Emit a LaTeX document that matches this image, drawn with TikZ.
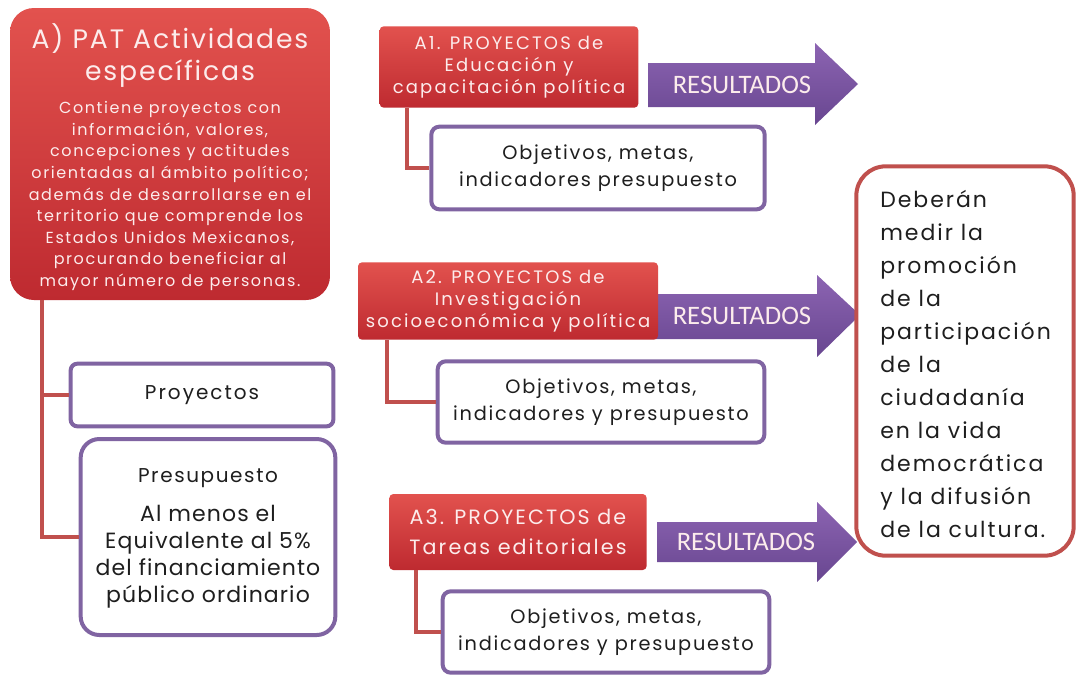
\documentclass[tikz,border=0pt]{standalone}
\usepackage{fontspec}
\setmainfont{Poppins}
\newfontfamily\resfont{Carlito}
\newcommand{\ls}[1]{\addfontfeatures{LetterSpace=#1}}
\definecolor{redtop}{RGB}{226,82,78}
\definecolor{redbot}{RGB}{190,42,48}
\definecolor{lighttext}{RGB}{252,236,236}
\definecolor{purtop}{RGB}{140,100,178}
\definecolor{purbot}{RGB}{104,70,144}
\definecolor{purline}{RGB}{128,100,162}
\definecolor{redline}{RGB}{192,80,77}
\definecolor{darktext}{RGB}{30,30,30}
\begin{document}
\begin{tikzpicture}[x=0.75pt,y=-0.75pt,
  redbox/.style={draw=none, top color=redtop, bottom color=redbot, inner sep=0pt},
  redtext/.style={text=lighttext, align=center, inner sep=0pt},
  purbox/.style={draw=purline, line width=3pt, fill=white, inner sep=0pt, text=darktext, align=center},
  arrowshape/.style={draw=none, top color=purtop, bottom color=purbot},
  restext/.style={text=lighttext, font=\resfont\fontsize{20}{22}\selectfont, inner sep=0pt},
  conn/.style={draw=redline, line width=3pt},
  objtext/.style={font=\fontsize{14.5}{20.5}\selectfont\ls{9}}
]
\fill[white] (0,0) rectangle (1077,675);
\useasboundingbox (0,0) rectangle (1077,675);

% result arrows
\path[arrowshape] (648,63) -- (815,63) -- (815,43) -- (858,84) -- (815,125) -- (815,107) -- (648,107) -- cycle;
\node[restext] (r1) at (742,85) {RESULTADOS};
\path[arrowshape] (655,294) -- (817,294) -- (817,275) -- (860,315) -- (817,357) -- (817,339) -- (655,339) -- cycle;
\node[restext] (r2) at (742,316) {RESULTADOS};
\path[arrowshape] (657,522) -- (817,522) -- (817,502) -- (857,542) -- (817,582) -- (817,562) -- (657,562) -- cycle;
\node[restext] (r3) at (746,542) {RESULTADOS};

% main A box
\node[redbox, rounded corners=18pt, minimum width=240pt, minimum height=219pt] (A) at (170,154) {};
\node[redtext, font=\fontsize{20}{24}\selectfont\ls{7}] (At) at (170,56) {A) PAT Actividades\\específicas};
\node[redtext, font=\fontsize{12}{16.2}\selectfont\ls{10}] (Ab) at (170,196) {Contiene proyectos con\\información, valores,\\concepciones y actitudes\\orientadas al ámbito político;\\además de desarrollarse en el\\territorio que comprende los\\Estados Unidos Mexicanos,\\procurando beneficiar al\\mayor número de personas.};

% Proyectos / Presupuesto
\node[purbox, rounded corners=5pt, minimum width=197pt, minimum height=47pt, font=\fontsize{15}{18}\selectfont\ls{10}] (proy) at (202,395) {Proyectos};
\node[purbox, rounded corners=14pt, minimum width=191pt, minimum height=147pt] (pres) at (208,537) {};
\node[text=darktext, font=\fontsize{15}{18}\selectfont\ls{8}, inner sep=0pt] (prest) at (208,478) {Presupuesto};
\node[text=darktext, align=center, font=\fontsize{16.5}{20.3}\selectfont\ls{5}, inner sep=0pt] (presb) at (208,557) {Al menos el\\Equivalente al 5\%\\del financiamiento\\público ordinario};

\draw[conn] ([xshift=24pt]A.south west) |- (proy.west);
\draw[conn] ([xshift=24pt]A.south west) |- (pres.west);

% A1
\node[redbox, rounded corners=3pt, minimum width=194pt, minimum height=61pt] (a1) at (509,67) {};
\node[redtext, font=\fontsize{13.5}{16.5}\selectfont\ls{12}] (a1t) at (509,67) {A1. PROYECTOS de\\Educación y\\capacitación política};
\node[purbox, objtext, rounded corners=6pt, minimum width=250pt, minimum height=62pt] (o1) at (598,168) {Objetivos, metas,\\indicadores presupuesto};
\draw[conn] ([xshift=21pt]a1.south west) |- (o1.west);

% A2
\node[redbox, rounded corners=3pt, minimum width=225pt, minimum height=58pt] (a2) at (508,301) {};
\node[redtext, font=\fontsize{13.5}{16.5}\selectfont\ls{12}] (a2t) at (508,301) {A2. PROYECTOS de\\Investigación\\socioeconómica y política};
\node[purbox, objtext, rounded corners=6pt, minimum width=245pt, minimum height=61pt] (o2) at (601,402) {Objetivos, metas,\\indicadores y presupuesto};
\draw[conn] ([xshift=22pt]a2.south west) |- (o2.west);

% A3
\node[redbox, rounded corners=3pt, minimum width=193pt, minimum height=57pt] (a3) at (518,532) {};
\node[redtext, font=\fontsize{15.5}{22}\selectfont\ls{10}] (a3t) at (518,532) {A3. PROYECTOS de\\Tareas editoriales};
\node[purbox, objtext, rounded corners=6pt, minimum width=245pt, minimum height=61pt] (o3) at (606,632) {Objetivos, metas,\\indicadores y presupuesto};
\draw[conn] ([xshift=20pt]a3.south west) |- (o3.west);

% right box
\node[draw=redline, line width=3pt, fill=white, rounded corners=22pt, minimum width=163pt, minimum height=292pt] (res) at (965,361) {};
\node[text=darktext, align=left, anchor=west, inner sep=0pt, font=\fontsize{16.5}{24.7}\selectfont\ls{9}] (rest) at (880,364) {Deberán\\medir la\\promoción\\de la\\participación\\de la\\ciudadanía\\en la vida\\democrática\\y la difusión\\de la cultura.};
\end{tikzpicture}
\end{document}
